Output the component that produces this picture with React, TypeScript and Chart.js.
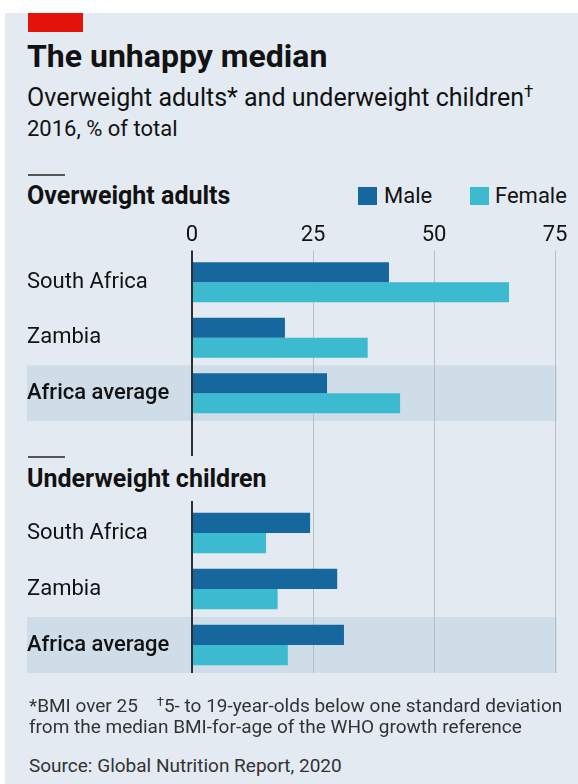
import React, { useEffect, useRef } from "react";
import { Chart, registerables } from "chart.js";

Chart.register(...registerables);

// ---------- data ----------
const SERIES = ["Male", "Female"];
const CATEGORIES = ["South Africa", "Zambia", "Africa average"];
const HIGHLIGHT = "Africa average";
const OVERWEIGHT_MALE = [40.7, 19.2, 27.9];
const OVERWEIGHT_FEMALE = [65.5, 36.3, 43.0];
const UNDERWEIGHT_MALE = [24.4, 30.0, 31.4];
const UNDERWEIGHT_FEMALE = [15.3, 17.7, 19.8];
const X_MIN = 0;
const X_MAX = 75;
const X_STEP = 25;

// ---------- style ----------
const FONT = "Roboto, 'Noto Sans', sans-serif";
const PANEL_BG = "#e3eaf1";
const BAND_BG = "#cfdde8";
const COLORS = ["#16679e", "#3bbad0"];
const GRID = "#b5c0c9";
const ZERO = "#2e2e2e";
const TEXT = "#121212";

type DecoOpts = {
  bandLeft: number;
  extTop: number;
  extBottomToCanvas: boolean;
  zeroExtBottom: number;
};

const decoPlugin = {
  id: "deco",
  beforeDraw(chart: any, _a: any, opts: DecoOpts) {
    const { ctx, chartArea, scales } = chart;
    const y = scales.y;
    const labels: string[] = chart.data.labels;
    const half = (y.getPixelForValue(1) - y.getPixelForValue(0)) / 2;
    labels.forEach((lab, i) => {
      if (lab !== HIGHLIGHT) return;
      const c = y.getPixelForValue(i);
      ctx.save();
      ctx.fillStyle = BAND_BG;
      ctx.fillRect(opts.bandLeft, c - half, chartArea.right + 2 - opts.bandLeft, half * 2);
      ctx.restore();
    });
  },
  beforeDatasetsDraw(chart: any, _a: any, opts: DecoOpts) {
    const { ctx, chartArea, scales } = chart;
    const x = scales.x;
    const top = chartArea.top - opts.extTop;
    const bottom = opts.extBottomToCanvas ? chart.height : chartArea.bottom;
    ctx.save();
    ctx.strokeStyle = GRID;
    ctx.lineWidth = 1;
    x.ticks.forEach((t: any) => {
      if (t.value === 0) return;
      const px = Math.round(x.getPixelForValue(t.value)) + 0.5;
      ctx.beginPath();
      ctx.moveTo(px, top);
      ctx.lineTo(px, bottom);
      ctx.stroke();
    });
    ctx.restore();
  },
  afterDatasetsDraw(chart: any, _a: any, opts: DecoOpts) {
    const { ctx, chartArea, scales } = chart;
    const x = scales.x;
    const px = x.getPixelForValue(0);
    ctx.save();
    ctx.strokeStyle = ZERO;
    ctx.lineWidth = 2;
    ctx.beginPath();
    ctx.moveTo(px, chartArea.top - opts.extTop);
    ctx.lineTo(px, chartArea.bottom + opts.zeroExtBottom);
    ctx.stroke();
    ctx.restore();
  },
};

function Panel(props: {
  male: number[];
  female: number[];
  showTicks: boolean;
  top: number;
  height: number;
  padTop: number;
  padBottom: number;
  deco: DecoOpts;
}) {
  const ref = useRef<HTMLCanvasElement | null>(null);
  useEffect(() => {
    if (!ref.current) return;
    const chart = new Chart(ref.current, {
      type: "bar",
      data: {
        labels: CATEGORIES,
        datasets: [
          { label: SERIES[0], data: props.male, backgroundColor: COLORS[0], borderWidth: 0 },
          { label: SERIES[1], data: props.female, backgroundColor: COLORS[1], borderWidth: 0 },
        ],
      },
      options: {
        indexAxis: "y",
        animation: false,
        responsive: false,
        maintainAspectRatio: false,
        devicePixelRatio: 1,
        layout: { padding: { left: 27, right: 23, top: props.padTop, bottom: props.padBottom } },
        datasets: { bar: { categoryPercentage: 0.72, barPercentage: 1 } },
        plugins: {
          legend: { display: false },
          tooltip: { enabled: false },
          deco: props.deco,
        } as any,
        scales: {
          x: {
            type: "linear",
            position: "top",
            min: X_MIN,
            max: X_MAX,
            ticks: {
              display: props.showTicks,
              stepSize: X_STEP,
              padding: 6,
              color: TEXT,
              font: { family: FONT, size: 22 },
            },
            grid: { display: false, drawTicks: false },
            border: { display: false },
          },
          y: {
            type: "category",
            ticks: {
              crossAlign: "far",
              padding: 0,
              color: TEXT,
              font: (c: any) => ({
                family: FONT,
                size: 22,
                weight: CATEGORIES[c.index] === HIGHLIGHT ? "500" : "400",
              }),
            },
            grid: { display: false, drawTicks: false },
            border: { display: false },
            afterFit: (s: any) => {
              s.width = 165;
            },
          },
        },
      },
      plugins: [decoPlugin],
    } as any);
    return () => chart.destroy();
  }, []);
  return (
    <canvas
      ref={ref}
      width={578}
      height={props.height}
      style={{ position: "absolute", left: 0, top: props.top, width: 578, height: props.height }}
    />
  );
}

const txt = (
  left: number,
  top: number,
  size: number,
  content: React.ReactNode,
  extra: React.CSSProperties = {}
) => (
  <div
    style={{
      position: "absolute",
      left,
      top,
      fontSize: size,
      lineHeight: 1,
      whiteSpace: "nowrap",
      color: TEXT,
      fontFamily: FONT,
      ...extra,
    }}
  >
    {content}
  </div>
);

export default function App() {
  return (
    <div
      style={{
        position: "absolute",
        left: 0,
        top: 0,
        width: 578,
        height: 784,
        background: "#fff",
        overflow: "hidden",
        fontFamily: FONT,
      }}
    >
      <div style={{ position: "absolute", left: 5, top: 13, right: 0, bottom: 0, background: PANEL_BG }} />
      <div style={{ position: "absolute", left: 28, top: 13, width: 55, height: 19, background: "#e3120b" }} />
      {txt(27, 40, 32, "The unhappy median", { fontWeight: 700 })}
      {txt(27, 83, 25, (
        <>
          Overweight adults* and underweight children
          <span style={{ fontSize: 17, verticalAlign: 9 }}>†</span>
        </>
      ))}
      {txt(27, 118, 22, "2016, % of total")}

      <div style={{ position: "absolute", left: 28, top: 174, width: 37, height: 2, background: "#555" }} />
      {txt(27, 183, 25, "Overweight adults", { fontWeight: 700 })}

      {SERIES.map((s, i) => (
        <React.Fragment key={s}>
          <div
            style={{
              position: "absolute",
              left: i === 0 ? 358 : 470,
              top: 187,
              width: 19,
              height: 18,
              background: COLORS[i],
            }}
          />
          {txt(i === 0 ? 384 : 495, 185, 22, s)}
        </React.Fragment>
      ))}

      <div style={{ position: "absolute", left: 28, top: 456, width: 37, height: 2, background: "#555" }} />
      {txt(27, 466, 25, "Underweight children", { fontWeight: 700 })}

      <Panel
        male={OVERWEIGHT_MALE}
        female={OVERWEIGHT_FEMALE}
        showTicks={true}
        top={216}
        height={287}
        padTop={0}
        padBottom={82}
        deco={{ bandLeft: 27, extTop: 4, extBottomToCanvas: true, zeroExtBottom: 35 }}
      />
      <Panel
        male={UNDERWEIGHT_MALE}
        female={UNDERWEIGHT_FEMALE}
        showTicks={false}
        top={487}
        height={204}
        padTop={18}
        padBottom={18}
        deco={{ bandLeft: 27, extTop: 4, extBottomToCanvas: false, zeroExtBottom: 0 }}
      />

      {txt(29, 695, 19, (
        <>
          *BMI over 25{"\u00a0\u00a0\u00a0\u00a0"}
          <span style={{ fontSize: 13, verticalAlign: 6 }}>†</span>5- to 19-year-olds below one standard deviation
        </>
      ), { color: "#333" })}
      {txt(29, 717, 19, "from the median BMI-for-age of the WHO growth reference", { color: "#333" })}
      {txt(29, 756, 19, "Source: Global Nutrition Report, 2020", { color: "#333" })}
    </div>
  );
}
